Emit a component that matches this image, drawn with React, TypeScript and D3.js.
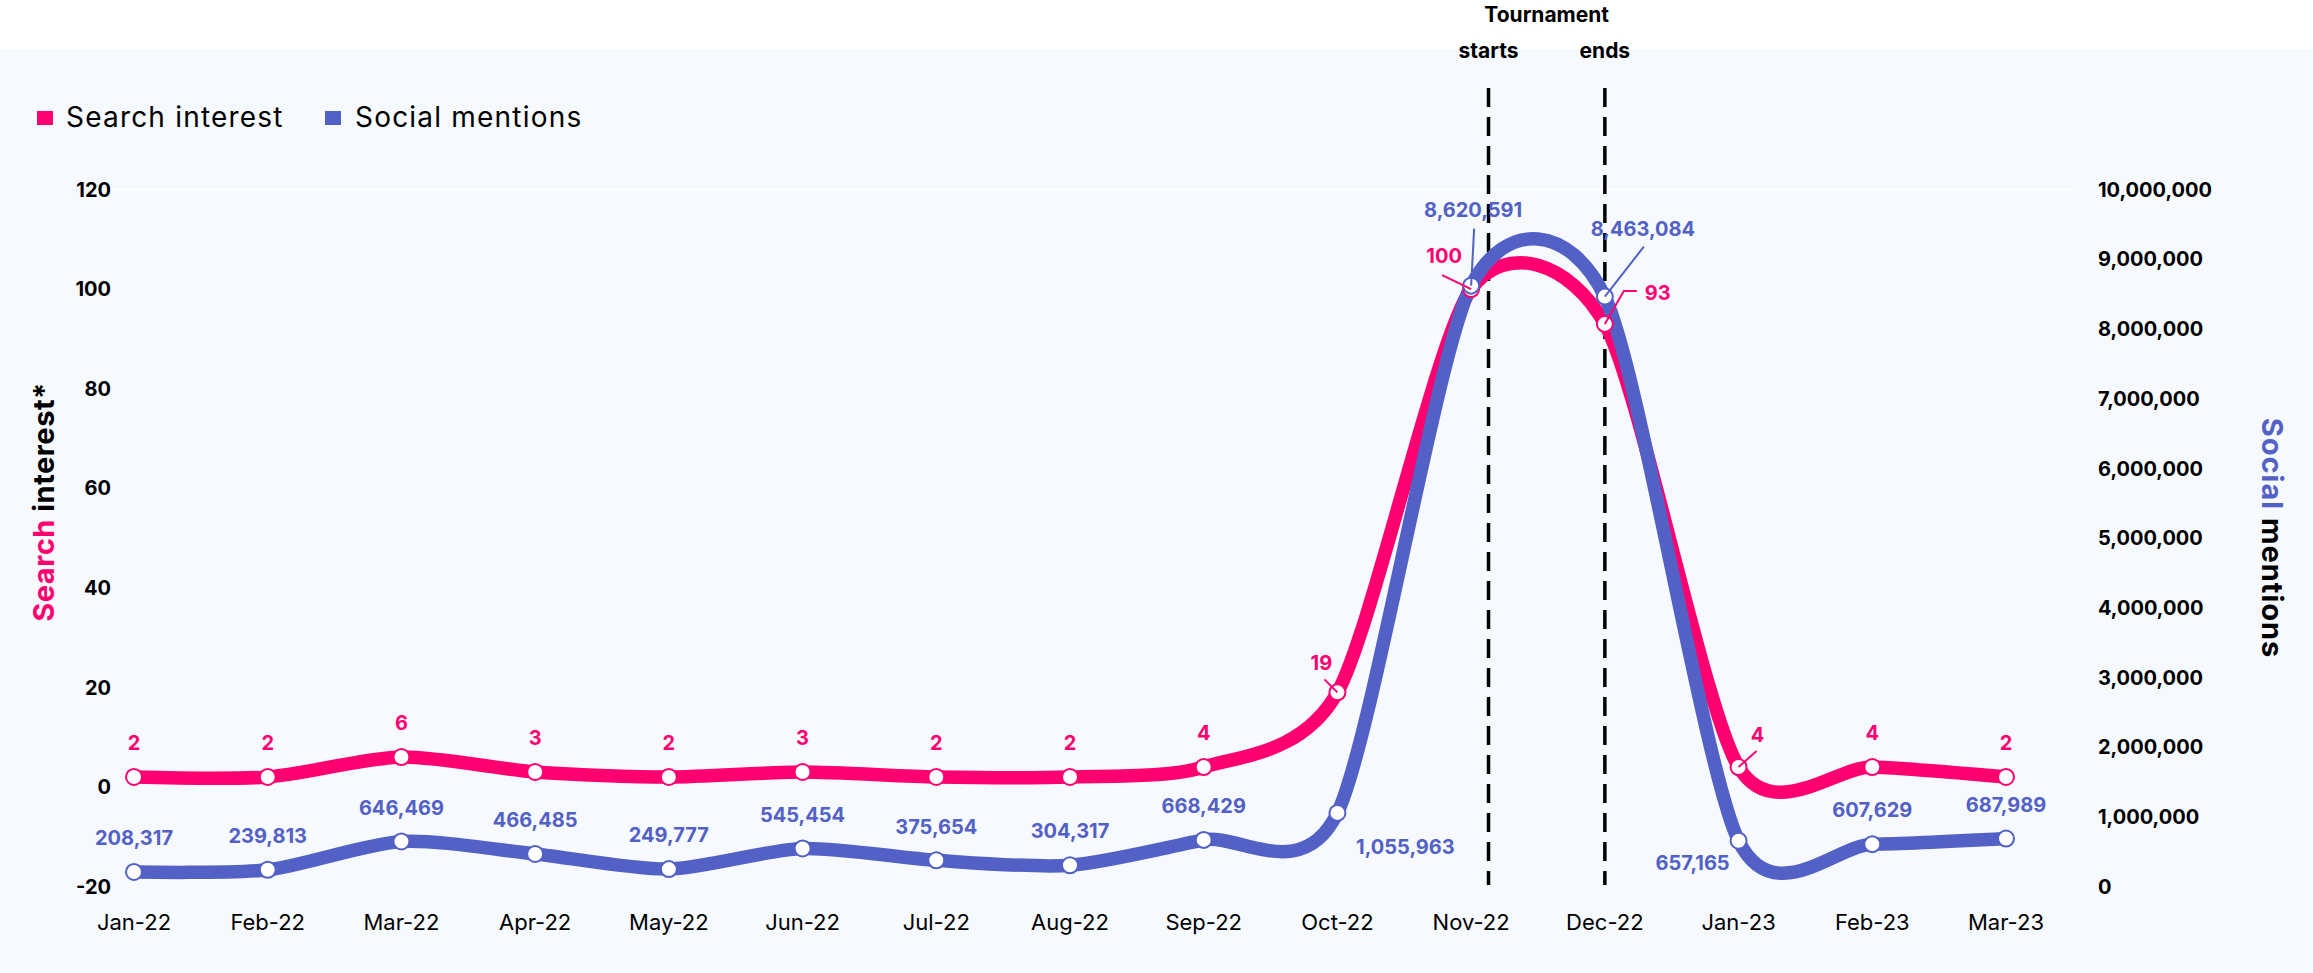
import React from "react";
import * as d3 from "d3";

// Monthly series
const months = [
  "Jan-22", "Feb-22", "Mar-22", "Apr-22", "May-22", "Jun-22", "Jul-22", "Aug-22",
  "Sep-22", "Oct-22", "Nov-22", "Dec-22", "Jan-23", "Feb-23", "Mar-23",
];
const searchInterest = [2, 2, 6, 3, 2, 3, 2, 2, 4, 19, 100, 93, 4, 4, 2];
const socialMentions = [
  208317, 239813, 646469, 466485, 249777, 545454, 375654, 304317,
  668429, 1055963, 8620591, 8463084, 657165, 607629, 687989,
];

const leftTicks = [-20, 0, 20, 40, 60, 80, 100, 120];
const rightTicks = [0, 1e6, 2e6, 3e6, 4e6, 5e6, 6e6, 7e6, 8e6, 9e6, 1e7];

// Tournament window, as fractional month index
const tournamentMarks = [
  { label: "starts", at: 10.13 },
  { label: "ends", at: 11.0 },
];

const PINK = "#FF0070";
const BLUE = "#5361C6";
const BG = "#F6F9FE";
const FONT = "Inter, 'Open Sans', sans-serif";

const W = 2313;
const H = 973;

// Custom label placement for crowded points: label offset (dx, dy of label centre),
// optional leader polyline (relative to the point)
type Placement = { dx: number; dy: number; anchor?: string; leader?: [number, number][] };
const searchPlacements: Record<number, Placement> = {
  9: { dx: -16, dy: -30, leader: [[0, 0], [-13, -13]] },
  10: { dx: -27, dy: -33, leader: [[0, 0], [-29, -14]] },
  11: { dx: 40, dy: -31, anchor: "start", leader: [[0, 0], [19, -33], [32, -33]] },
  12: { dx: 19, dy: -32, leader: [[0, 0], [18, -16]] },
};
const socialPlacements: Record<number, Placement> = {
  9: { dx: 68, dy: 34 },
  10: { dx: 2, dy: -76, leader: [[0, 0], [3, -57]] },
  11: { dx: 38, dy: -68, leader: [[0, 0], [39, -50]] },
  12: { dx: -46, dy: 22 },
};

export default function App() {
  const x = d3.scalePoint<string>().domain(months).range([134, 2006]);
  const yLeft = d3.scaleLinear().domain([-20, 120]).range([886.5, 189.5]);
  const yRight = d3.scaleLinear().domain([0, 1e7]).range([886.5, 189.5]);
  const step = x.step();

  const curve = d3.curveCardinal.tension(0.22);
  const searchPts = searchInterest.map((v, i) => [x(months[i])!, yLeft(v)] as [number, number]);
  const socialPts = socialMentions.map((v, i) => [x(months[i])!, yRight(v)] as [number, number]);
  const line = d3.line<[number, number]>().curve(curve);

  const fmt = d3.format(",");

  const labelFor = (
    pts: [number, number][],
    vals: number[],
    placements: Record<number, Placement>,
    color: string,
    text: (v: number) => string,
    key: string
  ) =>
    pts.map(([px, py], i) => {
      const p = placements[i] || { dx: 0, dy: -34 };
      return (
        <g key={key + i}>
          {p.leader && (
            <polyline
              points={p.leader.map(([lx, ly]) => `${px + lx},${py + ly}`).join(" ")}
              fill="none"
              stroke={color}
              strokeWidth={2}
            />
          )}
          <text
            x={px + p.dx}
            y={py + p.dy}
            dy="0.36em"
            textAnchor={p.anchor || "middle"}
            fill={color}
            fontSize={20}
            fontWeight={700}
            fontFamily={FONT}
          >
            {text(vals[i])}
          </text>
        </g>
      );
    });

  const markX = (at: number) => x(months[Math.floor(at)])! + (at - Math.floor(at)) * step;

  return (
    <svg
      width={W}
      height={H}
      style={{ position: "absolute", left: 0, top: 0, display: "block" }}
      fontFamily={FONT}
    >
      <rect x={0} y={0} width={W} height={H} fill="#ffffff" />
      <rect x={0} y={49} width={W} height={H - 49} fill={BG} />

      {/* top plot border */}
      <line x1={88} x2={2074} y1={yLeft(120)} y2={yLeft(120)} stroke="#ffffff" strokeWidth={2} />

      {/* legend */}
      <g>
        <rect x={37} y={111} width={16} height={14} fill={PINK} />
        <text x={66} y={127} fontSize={28} letterSpacing={1.2} fill="#000">Search interest</text>
        <rect x={325} y={111} width={16} height={14} fill={BLUE} />
        <text x={355} y={127} fontSize={28} letterSpacing={1.2} fill="#000">Social mentions</text>
      </g>

      {/* left axis */}
      {leftTicks.map((t) => (
        <text key={"l" + t} x={111} y={yLeft(t)} dy="0.36em" textAnchor="end" fontSize={20} fontWeight={700} fill="#000">
          {t}
        </text>
      ))}
      <text transform={`translate(44,502) rotate(-90)`} textAnchor="middle" dy="0.36em" fontSize={29} fontWeight={700} letterSpacing={0.5}>
        <tspan fill={PINK}>Search</tspan>
        <tspan fill="#000"> interest*</tspan>
      </text>

      {/* right axis */}
      {rightTicks.map((t) => (
        <text key={"r" + t} x={2098} y={yRight(t)} dy="0.36em" textAnchor="start" fontSize={20} fontWeight={700} fill="#000">
          {fmt(t)}
        </text>
      ))}
      <text transform={`translate(2272,538) rotate(90)`} textAnchor="middle" dy="0.36em" fontSize={29} fontWeight={700} letterSpacing={1}>
        <tspan fill={BLUE}>Social</tspan>
        <tspan fill="#000"> mentions</tspan>
      </text>

      {/* x axis */}
      {months.map((m) => (
        <text key={m} x={x(m)} y={922} dy="0.36em" textAnchor="middle" fontSize={22} fill="#000">
          {m}
        </text>
      ))}

      {/* tournament markers */}
      {tournamentMarks.map((t) => (
        <g key={t.label}>
          <line
            x1={markX(t.at)}
            x2={markX(t.at)}
            y1={88}
            y2={885}
            stroke="#000"
            strokeWidth={3.5}
            strokeDasharray="19,10"
          />
          <text x={markX(t.at)} y={50} dy="0.36em" textAnchor="middle" fontSize={21} fontWeight={700}>
            {t.label}
          </text>
        </g>
      ))}
      <text
        x={(markX(tournamentMarks[0].at) + markX(tournamentMarks[1].at)) / 2}
        y={14}
        dy="0.36em"
        textAnchor="middle"
        fontSize={21}
        fontWeight={700}
      >
        Tournament
      </text>

      {/* series lines */}
      <path d={line(searchPts) || ""} fill="none" stroke={PINK} strokeWidth={13.5} strokeLinecap="round" />
      <path d={line(socialPts) || ""} fill="none" stroke={BLUE} strokeWidth={13.5} strokeLinecap="round" />

      {/* markers */}
      {searchPts.map(([px, py], i) => (
        <circle key={"sm" + i} cx={px} cy={py} r={8} fill="#fff" stroke={PINK} strokeWidth={2} />
      ))}
      {socialPts.map(([px, py], i) => (
        <circle key={"so" + i} cx={px} cy={py} r={8} fill="#fff" stroke={BLUE} strokeWidth={2} />
      ))}

      {/* data labels */}
      {labelFor(searchPts, searchInterest, searchPlacements, PINK, (v) => String(v), "sl")}
      {labelFor(socialPts, socialMentions, socialPlacements, BLUE, (v) => fmt(v), "ol")}
    </svg>
  );
}
